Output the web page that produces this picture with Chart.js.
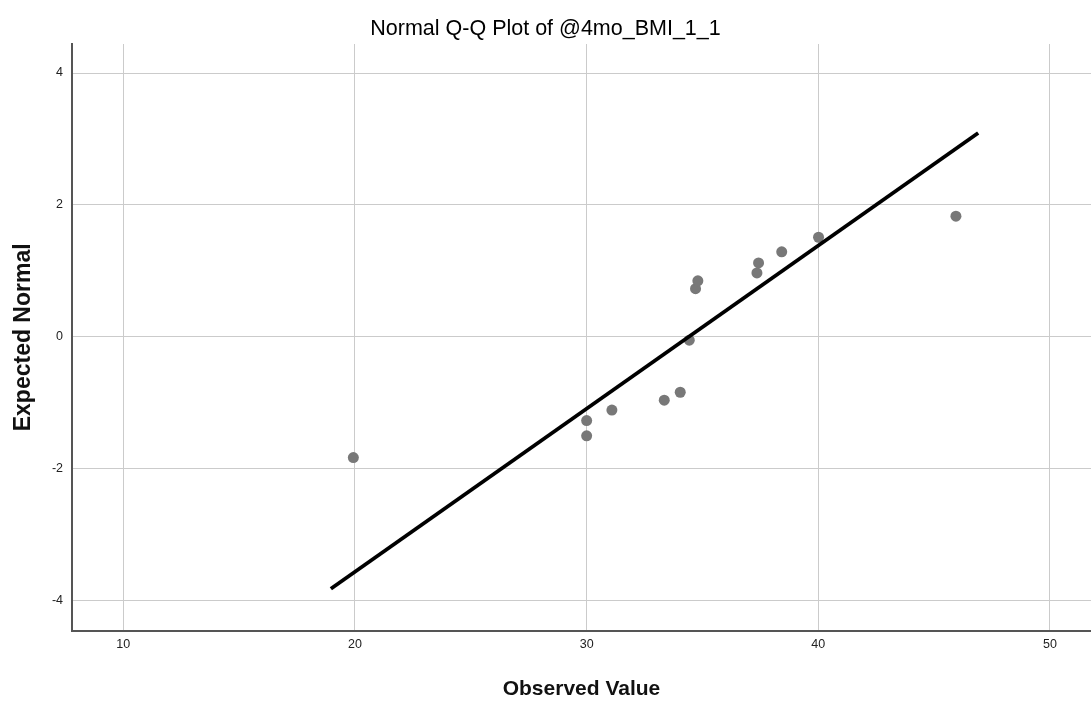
<!DOCTYPE html>
<html>
<head>
<meta charset="utf-8">
<title>Normal Q-Q Plot</title>
<script src="https://cdn.jsdelivr.net/npm/chart.js@4.4.1/dist/chart.umd.min.js"></script>
<style>
  html, body { margin: 0; padding: 0; background: #fff; }
  #qqChart { display: block; }
</style>
</head>
<body>
<canvas id="qqChart" width="1091" height="702"></canvas>
<script>
// Observed values and their expected normal quantiles
const observed = [19.93, 30.0, 30.0, 31.09, 33.35, 34.04, 34.43, 34.70, 34.80, 37.35, 37.42, 38.42, 40.01, 45.94];
const expected = [-1.83, -1.50, -1.27, -1.11, -0.96, -0.84, -0.05, 0.73, 0.85, 0.97, 1.12, 1.29, 1.51, 1.83];

// Reference line end points
const lineX = [18.96, 46.90];
const lineY = [-3.82, 3.09];

const xTicks = [10, 20, 30, 40, 50];
const yTicks = [-4, -2, 0, 2, 4];

const fontFamily = '"Liberation Sans", Arial, sans-serif';

const points = observed.map((x, i) => ({ x: x, y: expected[i] }));
const refLine = lineX.map((x, i) => ({ x: x, y: lineY[i] }));

const data = {
    datasets: [
        {
            type: 'line',
            label: 'Reference',
            data: refLine,
            borderColor: '#000000',
            borderWidth: 3.8,
            pointRadius: 0,
            fill: false,
            order: 0
        },
        {
            type: 'scatter',
            label: 'Observed',
            data: points,
            backgroundColor: '#787878',
            borderWidth: 0,
            pointRadius: 5.5,
            order: 1
        }
    ]
};

const config = {
    type: 'scatter',
    data: data,
    options: {
        responsive: false,
        animation: false,
        devicePixelRatio: 1,
        layout: { padding: 0, autoPadding: false },
        plugins: {
            legend: { display: false },
            tooltip: { enabled: false },
            title: {
                display: true,
                text: 'Normal Q-Q Plot of @4mo_BMI_1_1',
                color: '#000',
                font: { family: fontFamily, size: 21.5, weight: 'normal', lineHeight: 1.2 },
                padding: { top: 16, bottom: 2.2 }
            }
        },
        scales: {
            x: {
                type: 'linear',
                min: 7.786,
                max: 51.77,
                afterFit: scale => {
                    scale.height = 71.3;
                    scale.paddingLeft = 0;
                    scale.paddingRight = 0;
                },
                afterBuildTicks: scale => { scale.ticks = xTicks.map(v => ({ value: v })); },
                ticks: {
                    includeBounds: false,
                    color: '#222',
                    padding: 6,
                    font: { family: fontFamily, size: 12.5 }
                },
                grid: { color: '#cbcbcb', lineWidth: 1, drawTicks: false },
                border: { color: '#555', width: 2 },
                title: {
                    display: true,
                    text: 'Observed Value',
                    color: '#111',
                    font: { family: fontFamily, size: 21, weight: 'bold' },
                    padding: { top: 0, bottom: 0 }
                }
            },
            y: {
                type: 'linear',
                min: -4.455,
                max: 4.44,
                afterFit: scale => {
                    scale.width = 72;
                    scale.paddingTop = 0;
                    scale.paddingBottom = 0;
                },
                afterBuildTicks: scale => { scale.ticks = yTicks.map(v => ({ value: v })); },
                ticks: {
                    includeBounds: false,
                    color: '#222',
                    padding: 9,
                    font: { family: fontFamily, size: 12.5 }
                },
                grid: { color: '#cbcbcb', lineWidth: 1, drawTicks: false },
                border: { color: '#555', width: 2 },
                title: {
                    display: true,
                    text: 'Expected Normal',
                    color: '#111',
                    font: { family: fontFamily, size: 23, weight: 'bold' },
                    padding: { top: 9.5, bottom: 0 }
                }
            }
        }
    }
};

const ctx = document.getElementById('qqChart').getContext('2d');
const qqChart = new Chart(ctx, config);
</script>
</body>
</html>
